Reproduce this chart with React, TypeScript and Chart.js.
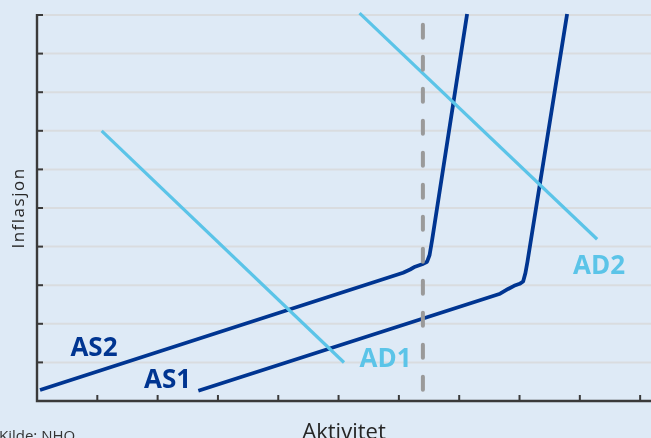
import React, { useEffect, useRef } from "react";
import { Chart, registerables } from "chart.js";

Chart.register(...registerables);

// Aggregate supply curves (activity on x, inflation on y)
const as1X = [2.675, 7.678, 7.811, 7.91, 8.002, 8.06, 8.098, 8.131, 8.789];
const as1Y = [0.267, 2.78, 2.902, 2.984, 3.036, 3.096, 3.316, 3.601, 10.026];
const as2X = [0.05, 6.07, 6.186, 6.269, 6.385, 6.468, 6.509, 6.551, 7.131];
const as2Y = [0.285, 3.324, 3.407, 3.479, 3.541, 3.609, 3.782, 4.171, 10.026];

// Aggregate demand curves
const ad1X = [1.072, 5.09];
const ad1Y = [6.997, 0.997];
const ad2X = [5.348, 9.287];
const ad2Y = [10.05, 4.19];

// Capacity limit (dashed vertical)
const capX = [6.398, 6.398];
const capY = [9.75, 0.21];

// Curve names, anchored in data units
const curveNames = ["AS1", "AS2", "AD1", "AD2"];
const curveNameX = [2.165, 0.945, 5.778, 9.32];
const curveNameY = [0.565, 1.412, 1.127, 3.536];

// Unlabelled tick positions on both axes
const xTicks = [0, 1, 2, 3, 4, 5, 6, 7, 8, 9, 10];
const yTicks = [0, 1, 2, 3, 4, 5, 6, 7, 8, 9, 10];

const DARK_BLUE = "#003591";
const LIGHT_BLUE = "#5bc4e8";
const BG = "#deeaf6";
const FONT = "'Open Sans', 'Noto Sans', sans-serif";

const pts = (xs: number[], ys: number[]) => xs.map((x, i) => ({ x, y: ys[i] }));

const framePlugin = {
  id: "frame",
  beforeDraw(chart: any) {
    const { ctx, width, height } = chart;
    ctx.save();
    ctx.fillStyle = BG;
    ctx.fillRect(0, 0, width, height);
    ctx.restore();
  },
  beforeDatasetsDraw(chart: any) {
    const { ctx, chartArea, scales } = chart;
    const xs = scales.x;
    const ys = scales.y;
    ctx.save();
    // horizontal grid
    ctx.strokeStyle = "#d9dcdf";
    ctx.lineWidth = 2;
    yTicks.forEach((v) => {
      if (v === 0) return;
      const py = ys.getPixelForValue(v);
      ctx.beginPath();
      ctx.moveTo(chartArea.left, py);
      ctx.lineTo(chartArea.right, py);
      ctx.stroke();
    });
    // axis lines
    ctx.strokeStyle = "#3a3a3a";
    ctx.lineWidth = 2.4;
    ctx.beginPath();
    ctx.moveTo(chartArea.left, ys.getPixelForValue(10) - 1);
    ctx.lineTo(chartArea.left, chartArea.bottom);
    ctx.lineTo(chartArea.right, chartArea.bottom);
    ctx.stroke();
    // inward ticks
    ctx.lineWidth = 2;
    yTicks.forEach((v) => {
      if (v === 0) return;
      const py = ys.getPixelForValue(v);
      ctx.beginPath();
      ctx.moveTo(chartArea.left, py);
      ctx.lineTo(chartArea.left + 6, py);
      ctx.stroke();
    });
    xTicks.forEach((v) => {
      if (v === 0) return;
      const px = xs.getPixelForValue(v);
      ctx.beginPath();
      ctx.moveTo(px, chartArea.bottom);
      ctx.lineTo(px, chartArea.bottom - 6);
      ctx.stroke();
    });
    ctx.restore();
  },
  afterDatasetsDraw(chart: any) {
    const { ctx, chartArea, scales } = chart;
    const xs = scales.x;
    const ys = scales.y;
    ctx.save();
    // curve names
    ctx.font = `bold 26px ${FONT}`;
    ctx.textAlign = "center";
    ctx.textBaseline = "alphabetic";
    curveNames.forEach((name, i) => {
      ctx.fillStyle = name.startsWith("AS") ? DARK_BLUE : LIGHT_BLUE;
      ctx.fillText(name, xs.getPixelForValue(curveNameX[i]), ys.getPixelForValue(curveNameY[i]) + 9.3);
    });
    // axis titles
    ctx.fillStyle = "#262626";
    ctx.font = `22px ${FONT}`;
    ctx.fillText("Aktivitet", (chartArea.left + chartArea.right) / 2, 438.5);
    ctx.save();
    ctx.translate(24, (chartArea.top + chartArea.bottom) / 2);
    ctx.rotate(-Math.PI / 2);
    ctx.font = `17px ${FONT}`;
    (ctx as any).letterSpacing = "1.5px";
    ctx.fillText("Inflasjon", 0, 0);
    ctx.restore();
    // source note
    ctx.fillStyle = "#333333";
    ctx.font = `15px ${FONT}`;
    ctx.textAlign = "left";
    ctx.fillText("Kilde: NHO", -1, 441);
    ctx.restore();
  },
};

export default function App() {
  const canvasRef = useRef<HTMLCanvasElement | null>(null);

  useEffect(() => {
    if (!canvasRef.current) return;
    const common = { pointRadius: 0, pointHoverRadius: 0, tension: 0, clip: false as any, borderJoinStyle: "round" as const };
    const supply = { ...common, borderColor: DARK_BLUE, borderWidth: 3.8 };
    const chart = new Chart(canvasRef.current, {
      type: "line",
      data: {
        datasets: [
          { ...common, label: "Kapasitet", data: pts(capX, capY), borderColor: "#9a9a9a", borderWidth: 4, borderDash: [13, 19], borderCapStyle: "round" },
          { ...common, label: "AD1", data: pts(ad1X, ad1Y), borderColor: LIGHT_BLUE, borderWidth: 3.2 },
          { ...common, label: "AD2", data: pts(ad2X, ad2Y), borderColor: LIGHT_BLUE, borderWidth: 3.2 },
          { ...supply, label: "AS1", data: pts(as1X, as1Y) },
          { ...supply, label: "AS2", data: pts(as2X, as2Y) },
        ],
      },
      options: {
        animation: false,
        responsive: false,
        devicePixelRatio: 1,
        layout: { padding: { left: 37, right: 0, top: 15, bottom: 37 } },
        plugins: { legend: { display: false }, tooltip: { enabled: false } },
        scales: {
          x: { type: "linear", min: 0, max: 10.18, display: false },
          y: { type: "linear", min: 0, max: 10, display: false },
        },
      },
      plugins: [framePlugin],
    });
    return () => chart.destroy();
  }, []);

  return (
    <div style={{ position: "fixed", left: 0, top: 0, width: 651, height: 438, background: BG }}>
      <canvas ref={canvasRef} width={651} height={438} style={{ display: "block" }} />
    </div>
  );
}
